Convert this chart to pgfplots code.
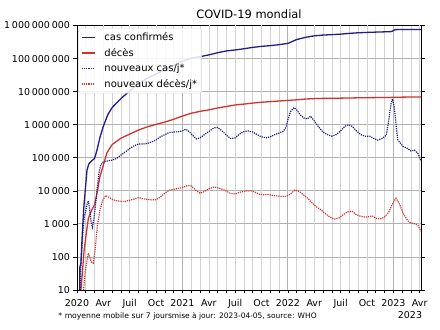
\documentclass[border=0pt]{standalone}
\usepackage{fontspec}
\setmainfont{DejaVu Sans}
\usepackage{pgfplots}
\pgfplotsset{compat=1.18}
\definecolor{cblue}{RGB}{30,30,140}
\definecolor{cred}{RGB}{210,50,45}
\newcommand\ts{\hspace{0.2em}}
\begin{document}
\begin{tikzpicture}
\useasboundingbox (-77bp,-40bp) rectangle (363bp,290bp);
\begin{axis}[
  at={(0bp,0bp)}, anchor=south west,
  scale only axis, width=344bp, height=264.5bp,
  ymode=log, ymin=10, ymax=1e9, xmin=0, xmax=39.15,
  ytick={10,100,1000,10000,100000,1000000,10000000,100000000,1000000000},
  yticklabels={{10},{100},{1\ts000},{10\ts000},{100\ts000},{1\ts000\ts000},{10\ts000\ts000},{100\ts000\ts000},{1\ts000\ts000\ts000}},
  yminorticks=false,
  xtick={0,12,24,36},
  xticklabels={2020,2021,2022,2023},
  extra x ticks={3,6,9,15,18,21,27,30,33,39},
  extra x tick labels={Avr,Juil,Oct,Avr,Juil,Oct,Avr,Juil,Oct,Avr},
  extra x tick style={grid=major, major grid style={gray!35, line width=0.6bp}},
  minor xtick={1,2,4,5,7,8,10,11,13,14,16,17,19,20,22,23,25,26,28,29,31,32,34,35,37,38},
  xmajorgrids=true, xminorgrids=true, ymajorgrids=true, yminorgrids=false,
  major grid style={gray!60, line width=0.8bp},
  minor grid style={gray!35, line width=0.6bp},
  tick align=outside, xtick pos=bottom, ytick pos=both,
  major tick length=3.5bp, minor tick length=3.5bp,
  tick style={black, line width=0.6bp},
  axis line style={line width=0.8bp},
  /pgf/number format/assume math mode=true,
  ticklabel style={font=\fontsize{9.5}{11}\selectfont},
  xticklabel style={yshift=-2.5bp},
  title={COVID-19 mondial},
  title style={font=\fontsize{11.5}{13}\selectfont, yshift=-3bp},
  legend cell align=left,
  legend style={at={(0,1)}, anchor=north west, xshift=1.5bp, yshift=-2.5bp,
    draw=gray!30, rounded corners=2bp, fill=white, fill opacity=0.85, text opacity=1,
    font=\fontsize{10}{12}\selectfont, row sep=2.2bp, inner sep=2.5bp},
  legend image code/.code={\draw[#1] (0bp,0bp) -- (13bp,0bp); \path (20bp,0bp);},
]
% cas confirmes
\addplot[cblue, line width=1.3bp] coordinates {
(0.30,10)(0.33,50)(0.45,65)(0.6,500)(0.77,3000)(0.96,1.2e4)(1.14,4.2e4)(1.34,6.5e4)(1.7,8.2e4)(2.0,9.5e4)(2.3,1.8e5)(2.6,4e5)(3.0,9e5)(3.5,2e6)(4,3.3e6)
(5,6.2e6)(6,1.05e7)(7,1.75e7)(8,2.55e7)(9,3.4e7)(10,4.6e7)(11,6.2e7)(12,8.3e7)(13,1.03e8)(14,1.14e8)(15,1.29e8)(16,1.5e8)(17,1.7e8)(18,1.82e8)(19,1.98e8)(20,2.18e8)(21,2.34e8)(22,2.46e8)(23,2.63e8)(24,2.88e8)(25,3.76e8)(26,4.37e8)(27,4.87e8)(28,5.13e8)(29,5.29e8)(30,5.48e8)(31,5.78e8)(32,6.02e8)(33,6.18e8)(34,6.31e8)(35,6.43e8)(35.8,6.55e8)(36.2,7.5e8)(37,7.55e8)(38,7.59e8)(39.15,7.62e8)
};
\addlegendentry{cas confirmés}
% deces
\addplot[cred, line width=1.3bp] coordinates {
(0.45,10)(0.6,30)(0.8,150)(1.0,400)(1.3,1500)(1.7,2700)(2.0,3800)(2.3,9000)(2.6,2.6e4)(3.0,6e4)(3.4,1.4e5)(4.0,2.5e5)(5,3.9e5)(6,5.2e5)(7,6.9e5)(8,8.6e5)(9,1.02e6)(10,1.2e6)(11,1.46e6)(12,1.82e6)(13,2.22e6)(14,2.53e6)(15,2.8e6)(16,3.2e6)(17,3.55e6)(18,3.95e6)(19,4.2e6)(20,4.5e6)(21,4.78e6)(22,4.98e6)(23,5.2e6)(24,5.44e6)(25,5.65e6)(26,5.96e6)(27,6.15e6)(28,6.25e6)(29,6.3e6)(30,6.35e6)(31,6.42e6)(32,6.5e6)(33,6.55e6)(34,6.6e6)(35,6.65e6)(36,6.7e6)(37,6.81e6)(38,6.86e6)(39.15,6.88e6)
};
\addlegendentry{décès}
% nouveaux cas / j
\addplot[cblue, line width=1.2bp, densely dotted] coordinates {
(0.38,10)(0.45,60)(0.6,300)(0.8,1500)(1.0,2500)(1.15,4000)(1.3,5000)(1.45,2600)(1.6,1200)(1.75,800)(1.9,1300)(2.1,3500)(2.3,1.2e4)(2.5,3.5e4)(2.7,6e4)(3.0,7.5e4)(3.5,8e4)(4.0,8.5e4)(4.5,9.5e4)(5.0,1.2e5)(5.5,1.5e5)(6.0,1.9e5)(6.5,2.3e5)(7.0,2.6e5)(7.5,2.6e5)(8.0,2.7e5)(8.5,3.0e5)(9.0,3.5e5)(9.5,4.3e5)(10.0,5.0e5)(10.5,5.8e5)(11,6.0e5)(11.5,6.1e5)(12,6.5e5)(12.4,7.3e5)(12.8,6.0e5)(13.2,4.6e5)(13.6,3.7e5)(14,4.0e5)(14.5,5.0e5)(15,6.2e5)(15.6,8.0e5)(16.0,8.2e5)(16.5,6.5e5)(17,4.8e5)(17.5,3.8e5)(18,4.0e5)(18.5,5.2e5)(19,6.2e5)(19.5,6.5e5)(20,6.0e5)(20.5,5.0e5)(21,4.3e5)(21.5,4.0e5)(22,4.3e5)(22.5,5.0e5)(23,5.6e5)(23.5,6.4e5)(23.8,8.5e5)(24,1.4e6)(24.3,2.5e6)(24.7,3.3e6)(25.0,2.8e6)(25.4,2.0e6)(25.8,1.6e6)(26.2,1.5e6)(26.6,1.8e6)(27.0,1.3e6)(27.5,8.5e5)(28,6.0e5)(28.5,5.0e5)(29,4.5e5)(29.5,5.0e5)(30,6.5e5)(30.5,9.0e5)(30.9,1.0e6)(31.3,9.0e5)(31.8,6.5e5)(32.3,5.0e5)(32.8,4.5e5)(33.3,4.5e5)(33.8,3.8e5)(34.2,3.4e5)(34.7,3.8e5)(35.2,4.8e5)(35.5,1.5e6)(35.75,4.5e6)(35.9,6.0e6)(36.1,3.5e6)(36.5,3.5e5)(37.1,2.2e5)(37.5,2.0e5)(38,1.6e5)(38.4,1.7e5)(38.8,1.35e5)(39.15,8e4)
};
\addlegendentry{nouveaux cas/j*}
% nouveaux deces / j
\addplot[cred, line width=1.2bp, densely dotted] coordinates {
(0.75,10)(0.9,30)(1.1,70)(1.3,130)(1.45,100)(1.65,70)(1.85,65)(2.05,150)(2.3,800)(2.6,2500)(2.9,5000)(3.25,7200)(3.6,6500)(4.0,5500)(4.5,5000)(5.0,4800)(5.5,4800)(6.0,5200)(6.5,5600)(7.0,6200)(7.5,5800)(8.0,5500)(8.5,5300)(9.0,5400)(9.5,6500)(10,8500)(10.5,10500)(11,11000)(11.5,11800)(12,12500)(12.6,14500)(13,14000)(13.5,10500)(14.0,8500)(14.5,9500)(15.0,11500)(15.6,13000)(16.2,12000)(16.8,10500)(17.4,8500)(18.0,8000)(18.5,9000)(19.2,9800)(19.8,10000)(20.3,9000)(20.8,7800)(21.3,7600)(21.8,7800)(22.3,7200)(22.8,7000)(23.3,6700)(23.8,6800)(24.3,8000)(24.8,10500)(25.3,9500)(25.8,7500)(26.3,5800)(26.8,4200)(27.3,3200)(27.8,2600)(28.3,2000)(28.8,1600)(29.3,1400)(29.8,1500)(30.3,1900)(30.8,2300)(31.3,2400)(31.8,1900)(32.3,1700)(32.8,1600)(33.2,1650)(33.6,1750)(34.0,1500)(34.5,1400)(35.0,1600)(35.5,2300)(35.9,4000)(36.3,6000)(36.7,4000)(37.1,2100)(37.6,1300)(38.0,1050)(38.5,1000)(38.8,900)(39.15,600)
};
\addlegendentry{nouveaux décès/j*}
\end{axis}
\node[anchor=west, inner sep=0pt, font=\fontsize{7.7}{9}\selectfont] at (-18.7bp,-26bp) {* moyenne mobile sur 7 jours};
\node[anchor=west, inner sep=0pt, font=\fontsize{7.5}{9}\selectfont] at (94.7bp,-26bp) {mise à jour: 2023-04-05, source: WHO};
\node[inner sep=0pt, font=\fontsize{9.5}{11}\selectfont] at (333bp,-25bp) {2023};
\end{tikzpicture}
\end{document}
